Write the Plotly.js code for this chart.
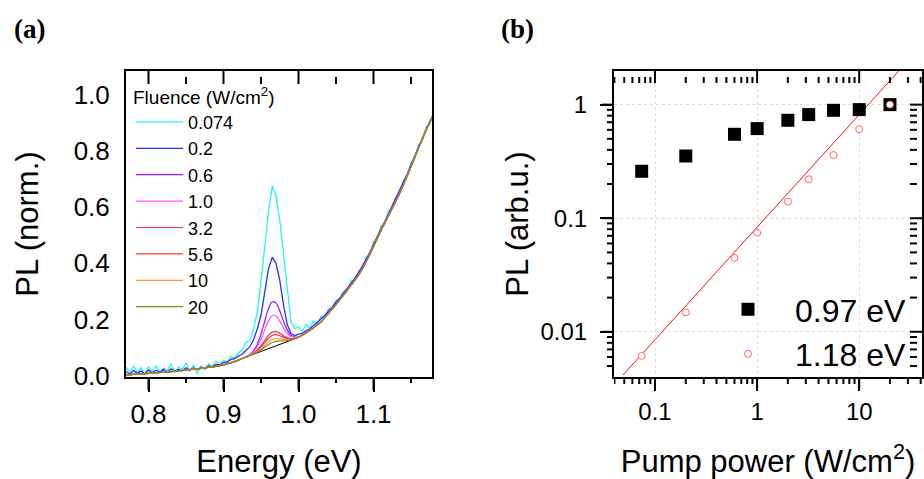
<!DOCTYPE html>
<html>
<head>
<meta charset="utf-8">
<script src="https://cdn.plot.ly/plotly-3.0.1.min.js"></script>
<style>
  html, body { margin: 0; padding: 0; background: #fff; }
  #chart { width: 924px; height: 479px; }
</style>
</head>
<body>
<div id="chart"></div>
<script>
// ---------- Panel (a): normalized PL spectra ----------
// Fine energy grid (eV) for the two noisiest spectra
const energyFine = [
  0.770,0.775,0.780,0.785,0.790,0.795,0.800,0.805,0.810,0.815,
  0.820,0.825,0.830,0.835,0.840,0.845,0.850,0.855,0.860,0.865,
  0.870,0.875,0.880,0.885,0.890,0.895,0.900,0.905,0.910,0.915,
  0.920,0.925,0.930,0.935,0.940,0.945,0.950,0.955,0.960,0.965,
  0.970,0.975,0.980,0.985,0.990,0.995,1.000,1.005,1.010,1.015,
  1.020,1.025,1.030,1.035,1.040,1.045,1.050,1.055,1.060,1.065,
  1.070,1.075,1.080,1.085,1.090,1.095,1.100,1.105,1.110,1.115,
  1.120,1.125,1.130,1.135,1.140,1.145,1.150,1.155,1.160,1.165,
  1.170,1.175,1.180
];
const pl_0074 = [
  0.030,0.008,0.035,0.012,0.028,0.004,0.031,0.015,0.036,0.010,
  0.027,0.018,0.040,0.012,0.030,0.022,0.045,0.014,0.038,0.006,
  0.034,0.020,0.042,0.030,0.052,0.036,0.055,0.048,0.068,0.060,
  0.082,0.090,0.118,0.125,0.165,0.225,0.335,0.470,0.585,0.675,
  0.640,0.555,0.430,0.300,0.190,0.168,0.172,0.158,0.182,0.168,
  0.195,0.180,0.212,0.203,0.238,0.242,0.266,0.274,0.301,0.300,
  0.340,0.337,0.373,0.378,0.422,0.428,0.476,0.485,0.532,0.538,
  0.587,0.592,0.638,0.646,0.696,0.706,0.760,0.770,0.824,0.834,
  0.886,0.894,0.935
];
const pl_02 = [
  0.015,0.004,0.018,0.008,0.016,0.006,0.020,0.010,0.019,0.012,
  0.022,0.011,0.024,0.015,0.022,0.017,0.028,0.020,0.027,0.021,
  0.030,0.026,0.034,0.032,0.040,0.038,0.047,0.048,0.058,0.060,
  0.070,0.076,0.090,0.102,0.128,0.165,0.215,0.300,0.380,0.422,
  0.400,0.340,0.252,0.182,0.150,0.142,0.148,0.150,0.160,0.166,
  0.178,0.187,0.200,0.214,0.230,0.244,0.262,0.276,0.294,0.310,
  0.330,0.346,0.366,0.388,0.414,0.438,0.468,0.494,0.524,0.549,
  0.577,0.602,0.630,0.657,0.688,0.718,0.752,0.783,0.816,0.847,
  0.878,0.906,0.932
];

// Smooth spectra: shared low-energy and high-energy parts, distinct peak part
const energyLow  = [0.77,0.78,0.79,0.80,0.81,0.82,0.83,0.84,0.85,0.86,0.87,0.88,0.89,0.90,0.91,0.92];
const plLow      = [0.002,0.004,0.006,0.008,0.010,0.012,0.014,0.017,0.020,0.023,0.026,0.029,0.033,0.038,0.046,0.055];
const energyPeak = [0.925,0.930,0.935,0.940,0.945,0.950,0.955,0.960,0.965,0.970,0.975,0.980,0.985,0.990,0.995];
const energyHigh = [1.00,1.01,1.02,1.03,1.04,1.05,1.06,1.07,1.08,1.09,1.10,1.11,1.12,1.13,1.14,1.15,1.16,1.17,1.18];
const plHigh     = [0.137,0.152,0.170,0.192,0.222,0.253,0.287,0.322,0.358,0.405,0.460,0.517,0.570,0.623,0.680,0.745,0.810,0.873,0.930];

const peak_06  = [0.061,0.067,0.075,0.089,0.112,0.148,0.194,0.238,0.263,0.259,0.231,0.194,0.163,0.144,0.137];
const peak_10  = [0.061,0.067,0.074,0.085,0.102,0.129,0.163,0.195,0.214,0.212,0.194,0.170,0.150,0.139,0.136];
const peak_32  = [0.061,0.066,0.072,0.080,0.091,0.107,0.125,0.143,0.155,0.157,0.151,0.142,0.135,0.132,0.133];
const peak_56  = [0.061,0.066,0.072,0.079,0.089,0.102,0.118,0.133,0.143,0.146,0.142,0.136,0.132,0.131,0.133];
const peak_10W = [0.061,0.066,0.072,0.078,0.086,0.096,0.108,0.120,0.128,0.131,0.131,0.129,0.128,0.129,0.132];
const peak_20W = [0.061,0.066,0.071,0.077,0.084,0.092,0.102,0.111,0.118,0.122,0.124,0.124,0.125,0.128,0.132];

// Linear background under the 0.97 eV band
const bgEnergy = [0.91, 1.00];
const bgPL     = [0.046, 0.136];

const fluenceLabels = ["0.074","0.2","0.6","1.0","3.2","5.6","10","20"];
const fluenceColors = ["#22f5f5","#2b2bff","#8c1aff","#ff50ff","#f0206a","#f03c3c","#ff9a3a","#8a8a10"];

// Tick positions for panel (a)
const energyMajorTicks = [0.8, 0.9, 1.0, 1.1];
const energyMinorTicks = [0.85, 0.95, 1.05, 1.15];

// ---------- Panel (b): integrated PL vs pump power ----------
const pumpPower = [0.074, 0.2, 0.6, 1.0, 2.0, 3.2, 5.6, 10, 20];
const pl097     = [0.259, 0.353, 0.548, 0.615, 0.728, 0.817, 0.891, 0.904, 1.0];
const pl118     = [0.00615, 0.0148, 0.0448, 0.0743, 0.140, 0.220, 0.360, 0.607, 1.0];
const fitPower  = [0.0485, 24.7];
const fitPL     = [0.00416, 2.0];

// Tick positions and labels for panel (b)
const logTickVals = [0.01, 0.1, 1, 10];
const logTickText = ["0.01", "0.1", "1", "10"];
const powerMajorTicks = [0.1, 1, 10];
const powerMinorTicks = [0.04,0.05,0.06,0.07,0.08,0.09,0.2,0.3,0.4,0.5,0.6,0.7,0.8,0.9,
                         2,3,4,5,6,7,8,9,20,30,40];
const plMajorTicks = [0.01, 0.1, 1];
const plMinorTicks = [0.005,0.006,0.007,0.008,0.009,0.02,0.03,0.04,0.05,0.06,0.07,0.08,0.09,
                      0.2,0.3,0.4,0.5,0.6,0.7,0.8,0.9];

const FONT = "Liberation Sans, Arial, sans-serif";
const W = 924, H = 479;
const domA = [126 / W, 432 / W];
const domB = [614 / W, 922 / W];
const domY = [(H - 377) / H, (H - 71) / H];
const rangeE = [0.77, 1.178];
const rangeP = [-1.402, 1.615];
const rangePL = [-2.398, 0.296];

const traces = [];
traces.push({
  x: bgEnergy, y: bgPL, xaxis: "x", yaxis: "y", mode: "lines",
  line: {color: "#000", width: 1}, showlegend: false, hoverinfo: "skip"
});
const smoothPeaks = [peak_06, peak_10, peak_32, peak_56, peak_10W, peak_20W];
const noisy = [pl_0074, pl_02];
fluenceLabels.forEach((lab, i) => {
  let xs, ys;
  if (i < 2) { xs = energyFine; ys = noisy[i]; }
  else {
    xs = energyLow.concat(energyPeak, energyHigh);
    ys = plLow.concat(smoothPeaks[i - 2], plHigh);
  }
  traces.push({
    x: xs, y: ys, xaxis: "x", yaxis: "y", mode: "lines", name: lab,
    legend: "legend",
    line: {color: fluenceColors[i], width: i < 2 ? 1.3 : 1.2, shape: i < 2 ? "linear" : "spline"}
  });
});

traces.push({
  x: fitPower, y: fitPL, xaxis: "x2", yaxis: "y2", mode: "lines",
  line: {color: "#ff1010", width: 1}, showlegend: false, hoverinfo: "skip"
});
traces.push({
  x: pumpPower, y: pl097, xaxis: "x2", yaxis: "y2", mode: "markers", name: "0.97 eV",
  legend: "legend2",
  marker: {symbol: "square", size: 13, color: "#000"}
});
traces.push({
  x: pumpPower, y: pl118, xaxis: "x2", yaxis: "y2", mode: "markers", name: "1.18 eV",
  legend: "legend2",
  marker: {symbol: "circle", size: 7, color: "#fff", line: {color: "#ff6464", width: 1}}
});

// ---------- Tick marks ----------
// Each frame edge gets a thin helper subplot whose counter axis is in pixels
// (range [0, len], len at the frame edge); ticks are 2-px-wide bars on the shared data scale.
const TICK_PX = 2;
const pxPerEnergy = (432 - 126) / (rangeE[1] - rangeE[0]);
const pxPerPowerDecade = (922 - 614) / (rangeP[1] - rangeP[0]);
const pxPerPLDecade = (377 - 71) / (rangePL[1] - rangePL[0]);
const linWidth = () => TICK_PX / pxPerEnergy;
const logWidth = (v, pxPerDecade) => v * Math.LN10 * TICK_PX / pxPerDecade;

function tickBars(major, minor, fullLen, minorLen, widthFn, orient, posAxis, lenAxis) {
  const pos = major.concat(minor);
  const len = major.map(() => fullLen).concat(minor.map(() => minorLen));
  const base = major.map(() => 0).concat(minor.map(() => fullLen - minorLen));
  const widths = pos.map(v => widthFn(v));
  const t = {
    type: "bar", orientation: orient, base: base, width: widths,
    offset: widths.map(w => -w / 2),
    marker: {color: "#000", line: {width: 0}}, showlegend: false, hoverinfo: "skip"
  };
  if (orient === "v") { t.x = pos; t.y = len; t.xaxis = posAxis; t.yaxis = lenAxis; }
  else { t.y = pos; t.x = len; t.yaxis = posAxis; t.xaxis = lenAxis; }
  return t;
}
// panel (a): bottom (outside), top (inside)
traces.push(tickBars(energyMajorTicks, energyMinorTicks, 13, 6, linWidth, "v", "x3", "y3"));
traces.push(tickBars(energyMajorTicks, energyMinorTicks, 13, 7, linWidth, "v", "x7", "y4"));
// panel (b): bottom (outside), top (inside), left (outside), right (inside)
const pw = v => logWidth(v, pxPerPowerDecade);
const plw = v => logWidth(v, pxPerPLDecade);
traces.push(tickBars(powerMajorTicks, powerMinorTicks, 12, 7, pw, "v", "x4", "y5"));
traces.push(tickBars(powerMajorTicks, powerMinorTicks, 12, 6, pw, "v", "x4", "y6"));
traces.push(tickBars(plMajorTicks, plMinorTicks, 12, 7, plw, "h", "y7", "x5"));
traces.push(tickBars(plMajorTicks, plMinorTicks, 12, 7, plw, "h", "y7", "x6"));

const tickFontA = {family: FONT, size: 26, color: "#000"};
const tickFontB = {family: FONT, size: 24, color: "#000"};
const titleFont = {family: FONT, size: 31, color: "#000"};

function hiddenAxis(extra) {
  return Object.assign({visible: false, fixedrange: true, showgrid: false, zeroline: false}, extra);
}

const layout = {
  width: W, height: H,
  margin: {l: 0, r: 0, t: 0, b: 0},
  paper_bgcolor: "#fff", plot_bgcolor: "rgba(0,0,0,0)",
  font: {family: FONT, color: "#000"},
  barmode: "overlay",

  // panel (a)
  xaxis: {
    domain: domA, anchor: "y", range: rangeE,
    tickmode: "array", tickvals: energyMajorTicks, tickformat: ".1f",
    ticks: "outside", ticklen: 13, tickwidth: 2, tickcolor: "#000",
    showline: true, mirror: true, linewidth: 2, linecolor: "#000",
    showgrid: false, zeroline: false, tickfont: tickFontA,
    title: {text: "Energy (eV)", font: titleFont, standoff: 30}
  },
  yaxis: {
    domain: domY, anchor: "x", range: [-0.005, 1.085],
    tick0: 0, dtick: 0.2, tickformat: ".1f", ticks: "",
    showline: true, mirror: true, linewidth: 2, linecolor: "#000",
    showgrid: false, zeroline: false, tickfont: tickFontA, ticklabelstandoff: 9,
    title: {text: "PL (norm.)", font: titleFont, standoff: 26}
  },

  // panel (b)
  xaxis2: {
    domain: domB, anchor: "y2", type: "log", range: rangeP,
    tickmode: "array", tickvals: logTickVals, ticktext: logTickText,
    ticks: "outside", ticklen: 12, tickwidth: 2, tickcolor: "#000",
    showline: true, mirror: true, linewidth: 2, linecolor: "#000",
    showgrid: true, gridcolor: "#dedede", griddash: "3px,3px", gridwidth: 1,
    zeroline: false, tickfont: tickFontB,
    title: {text: "Pump power (W/cm<sup>2</sup>)", font: titleFont, standoff: 30}
  },
  yaxis2: {
    domain: domY, anchor: "x2", type: "log", range: rangePL,
    tickmode: "array", tickvals: logTickVals, ticktext: logTickText,
    ticks: "outside", ticklen: 12, tickwidth: 2, tickcolor: "#000",
    showline: true, mirror: true, linewidth: 2, linecolor: "#000",
    showgrid: true, gridcolor: "#dedede", griddash: "3px,3px", gridwidth: 1,
    zeroline: false, tickfont: tickFontB, ticklabelstandoff: 8,
    title: {text: "PL (arb.u.)", font: titleFont, standoff: 3}
  },

  // tick strips: bottom/left strips grow toward the frame, top/right strips grow away from it
  xaxis3: hiddenAxis({domain: domA, type: "linear", range: rangeE.slice(), anchor: "y3"}),
  yaxis3: hiddenAxis({domain: [(H - 390) / H, (H - 377) / H], type: "linear", range: [0, 13], anchor: "x3"}),
  xaxis7: hiddenAxis({domain: domA, type: "linear", range: rangeE.slice(), anchor: "y4"}),
  yaxis4: hiddenAxis({domain: [(H - 84) / H, (H - 71) / H], type: "linear", range: [13, 0], anchor: "x7"}),
  xaxis4: hiddenAxis({domain: domB, type: "log", range: rangeP.slice(), anchor: "y5"}),
  yaxis5: hiddenAxis({domain: [(H - 389) / H, (H - 377) / H], type: "linear", range: [0, 12], anchor: "x4"}),
  yaxis6: hiddenAxis({domain: [(H - 83) / H, (H - 71) / H], type: "linear", range: [12, 0], anchor: "x4"}),
  xaxis5: hiddenAxis({domain: [602 / W, 614 / W], type: "linear", range: [0, 12], anchor: "y7"}),
  xaxis6: hiddenAxis({domain: [910 / W, 922 / W], type: "linear", range: [12, 0], anchor: "y7"}),
  yaxis7: hiddenAxis({domain: domY, type: "log", range: rangePL.slice(), anchor: "x5"}),

  legend: {
    x: 131 / W, xanchor: "left", y: (H - 79) / H, yanchor: "top",
    bgcolor: "rgba(0,0,0,0)", borderwidth: 0,
    font: {family: FONT, size: 18, color: "#000"},
    title: {text: "Fluence (W/cm<sup>2</sup>)", font: {family: FONT, size: 19, color: "#000"}},
    itemwidth: 47, tracegroupgap: 0, traceorder: "normal"
  },
  legend2: {
    x: 911 / W, xanchor: "right", y: (H - 282) / H, yanchor: "top",
    bgcolor: "rgba(0,0,0,0)", borderwidth: 0,
    font: {family: FONT, size: 32, color: "#000"},
    itemwidth: 84, tracegroupgap: 0, traceorder: "normal"
  },
  annotations: [
    {text: "<b>(a)</b>", xref: "paper", yref: "paper", x: 12 / W, y: (H - 29) / H,
     xanchor: "left", yanchor: "middle", showarrow: false,
     font: {family: "Liberation Serif, Times New Roman, serif", size: 27, color: "#000"}},
    {text: "<b>(b)</b>", xref: "paper", yref: "paper", x: 499 / W, y: (H - 29) / H,
     xanchor: "left", yanchor: "middle", showarrow: false,
     font: {family: "Liberation Serif, Times New Roman, serif", size: 27, color: "#000"}}
  ]
};

Plotly.newPlot("chart", traces, layout, {staticPlot: true, displayModeBar: false});
</script>
</body>
</html>
